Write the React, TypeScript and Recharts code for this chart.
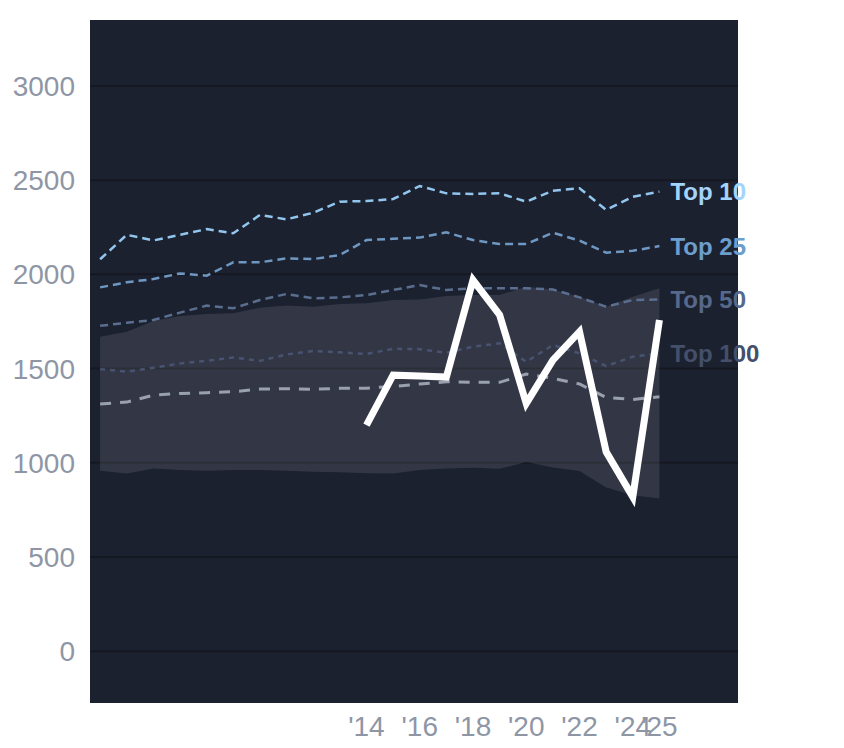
import { ComposedChart, Area, Line, XAxis, YAxis, CartesianGrid } from 'recharts';

const years = [
  2004, 2005, 2006, 2007, 2008, 2009, 2010, 2011, 2012, 2013, 2014,
  2015, 2016, 2017, 2018, 2019, 2020, 2021, 2022, 2023, 2024, 2025,
];

const top10 = [2080, 2210, 2180, 2210, 2240, 2218, 2315, 2292, 2327, 2386, 2389, 2400, 2469, 2430, 2427, 2430, 2386, 2444, 2457, 2342, 2412, 2439];
const top25 = [1931, 1958, 1975, 2005, 1993, 2064, 2064, 2085, 2081, 2103, 2182, 2189, 2195, 2223, 2182, 2161, 2161, 2221, 2179, 2115, 2125, 2150];
const top50 = [1727, 1743, 1758, 1797, 1834, 1820, 1864, 1896, 1873, 1878, 1890, 1917, 1943, 1917, 1926, 1926, 1926, 1920, 1878, 1828, 1864, 1867];
const top100 = [1497, 1483, 1504, 1527, 1541, 1559, 1541, 1575, 1593, 1586, 1577, 1605, 1603, 1584, 1616, 1634, 1536, 1625, 1581, 1513, 1563, 1581];
const median = [1312, 1322, 1359, 1368, 1372, 1377, 1391, 1393, 1390, 1395, 1396, 1405, 1418, 1430, 1427, 1427, 1471, 1448, 1418, 1347, 1336, 1350];
const bandHigh = [1669, 1696, 1752, 1779, 1789, 1793, 1823, 1835, 1828, 1843, 1846, 1864, 1867, 1885, 1890, 1890, 1934, 1920, 1881, 1828, 1881, 1926];
const bandLow = [957, 943, 970, 961, 957, 961, 962, 957, 953, 950, 945, 943, 961, 970, 973, 968, 1004, 975, 956, 869, 828, 811];
const player = [null, null, null, null, null, null, null, null, null, null, 1200, 1465, 1460, 1455, 1970, 1785, 1315, 1545, 1696, 1058, 819, 1758];

const xTicks = [2014, 2016, 2018, 2020, 2022, 2024, 2025];
const yTicks = [0, 500, 1000, 1500, 2000, 2500, 3000];

const data = years.map((year, i) => ({
  year,
  band: [bandLow[i], bandHigh[i]],
  top10: top10[i],
  top25: top25[i],
  top50: top50[i],
  top100: top100[i],
  median: median[i],
  player: player[i],
}));

const last = years.length - 1;
const font = '"Liberation Sans", Arial, sans-serif';
const tickStyle = { fill: '#8e96a6', fontSize: 28, fontFamily: font };

const endLabel = (name: string, color: string) => (props: any) => {
  if (props.index !== last) return <g />;
  return (
    <text
      x={props.x + 11}
      y={props.y}
      dy="0.36em"
      fill={color}
      fontSize={24}
      fontWeight="bold"
      fontFamily={font}
    >
      {name}
    </text>
  );
};

export default function App() {
  return (
    <div style={{ position: 'absolute', left: 0, top: 0 }}>
      <ComposedChart
        width={844}
        height={748}
        data={data}
        margin={{ top: 20, right: 106, bottom: 0, left: 0 }}
      >
        <CartesianGrid
          vertical={false}
          horizontalValues={yTicks}
          fill="#1c2130"
          stroke="#151821"
          strokeWidth={2}
        />
        <XAxis
          dataKey="year"
          type="number"
          domain={[2003.62, 2027.95]}
          ticks={xTicks}
          interval={0}
          tickFormatter={(v) => `'${String(v).slice(2)}`}
          tick={tickStyle}
          axisLine={false}
          tickLine={false}
          tickSize={0}
          tickMargin={13}
          height={45}
        />
        <YAxis
          domain={[-275, 3350]}
          ticks={yTicks}
          tick={tickStyle}
          axisLine={false}
          tickLine={false}
          tickSize={0}
          tickMargin={15}
          width={90}
        />
        <Area
          dataKey="band"
          type="linear"
          stroke="none"
          fill="#ffffff"
          fillOpacity={0.1}
          isAnimationActive={false}
        />
        <Line
          dataKey="top100"
          type="linear"
          stroke="#475370"
          strokeWidth={2.5}
          strokeDasharray="5 5"
          dot={false}
          label={endLabel('Top 100', '#444f69')}
          isAnimationActive={false}
        />
        <Line
          dataKey="median"
          type="linear"
          stroke="#9aa1ae"
          strokeWidth={3}
          strokeDasharray="11 9"
          dot={false}
          isAnimationActive={false}
        />
        <Line
          dataKey="top50"
          type="linear"
          stroke="#5a6e8f"
          strokeWidth={2.5}
          strokeDasharray="8 5"
          dot={false}
          label={endLabel('Top 50', '#56698a')}
          isAnimationActive={false}
        />
        <Line
          dataKey="top25"
          type="linear"
          stroke="#6e98c2"
          strokeWidth={2.5}
          strokeDasharray="8 5"
          dot={false}
          label={endLabel('Top 25', '#6c9ecd')}
          isAnimationActive={false}
        />
        <Line
          dataKey="top10"
          type="linear"
          stroke="#92c6ee"
          strokeWidth={2.5}
          strokeDasharray="8 5"
          dot={false}
          label={endLabel('Top 10', '#a3d4fc')}
          isAnimationActive={false}
        />
        <Line
          dataKey="player"
          type="linear"
          stroke="#ffffff"
          strokeWidth={7}
          dot={false}
          isAnimationActive={false}
        />
      </ComposedChart>
    </div>
  );
}
